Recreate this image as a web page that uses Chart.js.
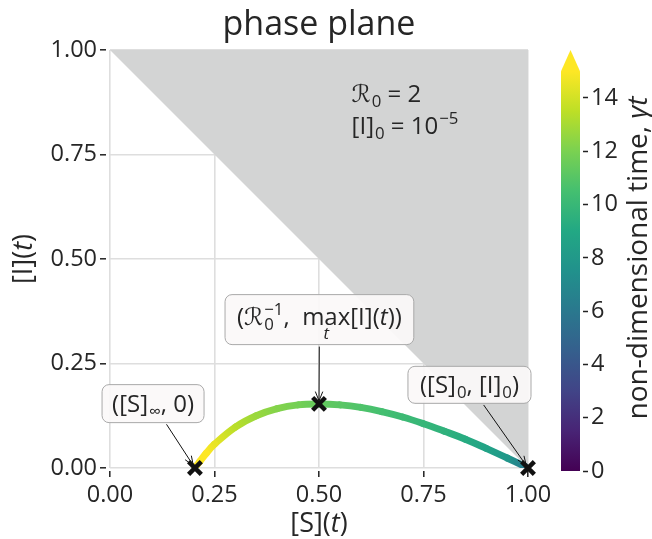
<!DOCTYPE html>
<html>
<head>
<meta charset="utf-8">
<script src="https://cdn.jsdelivr.net/npm/chart.js@4.4.0/dist/chart.umd.min.js"></script>
<style>
  html, body { margin: 0; padding: 0; background: #fff; }
  #wrap { position: relative; width: 652px; height: 539px; }
  #phase { position: absolute; left: 0; top: 0; }
  #cbar { position: absolute; left: 540px; top: 0; }
</style>
</head>
<body>
<div id="wrap">
  <canvas id="phase" width="560" height="539"></canvas>
  <canvas id="cbar" width="112" height="539"></canvas>
</div>
<script>
// SIR trajectory (R0 = 2, [I]0 = 1e-5)
const susceptible = [1.000, 0.990, 0.950, 0.900, 0.850, 0.800, 0.750, 0.700, 0.650, 0.600, 0.550, 0.500, 0.450, 0.400, 0.350, 0.300, 0.250, 0.230, 0.215, 0.2032];
const infected    = [0.000, 0.005, 0.024, 0.047, 0.069, 0.088, 0.106, 0.122, 0.135, 0.145, 0.151, 0.153, 0.151, 0.142, 0.125, 0.098, 0.057, 0.035, 0.016, 0.000];
// non-dimensional time (gamma t) along the trajectory, read from the colours
const timeGamma   = [5.0, 6.3, 7.9, 8.7, 9.2, 9.6, 9.9, 10.2, 10.5, 10.8, 11.1, 11.4, 11.8, 12.2, 12.7, 13.4, 14.5, 15.6, 17.0, 21.5];

// marked points: ([S]inf, 0), (1/R0, max I), ([S]0, [I]0)
const markerS = [0.2032, 0.500, 1.000];
const markerI = [0.000, 0.1534, 0.000];

// S + I = 1 boundary, region above it is shaded
const boundaryS = [0, 1];
const boundaryI = [1, 0];

const axisTicks = [0, 0.25, 0.5, 0.75, 1];
const timeTicks = [0, 2, 4, 6, 8, 10, 12, 14];
const timeMax = 15;

const FAMILY = '"Open Sans", "DejaVu Sans", sans-serif';
const INK = '#262626';

const viridis = ['#440154', '#482475', '#414487', '#355f8d', '#2a788e', '#21918c',
                 '#22a884', '#44bf70', '#7ad151', '#bddf26', '#fde725'];

function viridisAt(f) {
    f = Math.min(1, Math.max(0, f));
    const p = f * (viridis.length - 1);
    const i = Math.min(Math.floor(p), viridis.length - 2);
    const t = p - i;
    const a = viridis[i], b = viridis[i + 1];
    const c = [1, 3, 5].map(k => {
        const u = parseInt(a.substr(k, 2), 16), v = parseInt(b.substr(k, 2), 16);
        return Math.round(u + (v - u) * t);
    });
    return `rgb(${c[0]},${c[1]},${c[2]})`;
}

function font(size, italic) {
    return (italic ? 'italic ' : '') + size + 'px ' + FAMILY;
}

// runs: {t, sub, sup, under, it}
function runsWidth(ctx, runs, size) {
    let w = 0;
    for (const r of runs) {
        ctx.font = font(size, r.it);
        w += ctx.measureText(r.t).width;
        ctx.font = font(size * 0.7);
        const sw = Math.max(r.sub ? ctx.measureText(r.sub).width : 0,
                            r.sup ? ctx.measureText(r.sup).width : 0);
        if (sw) w += sw + 1;
    }
    return w;
}

function drawRuns(ctx, runs, x, y, size) {
    ctx.textAlign = 'left';
    ctx.textBaseline = 'alphabetic';
    for (const r of runs) {
        ctx.font = font(size, r.it);
        const tw = ctx.measureText(r.t).width;
        ctx.fillText(r.t, x, y);
        if (r.under) {
            ctx.font = font(size * 0.7, true);
            const uw = ctx.measureText(r.under).width;
            ctx.fillText(r.under, x + tw / 2 - uw / 2, y + size * 0.6);
        }
        x += tw;
        ctx.font = font(size * 0.7);
        let sw = 0;
        if (r.sub) {
            ctx.fillText(r.sub, x + 1, y + size * 0.22);
            sw = ctx.measureText(r.sub).width;
        }
        if (r.sup) {
            ctx.fillText(r.sup, x + 1, y - size * 0.42);
            sw = Math.max(sw, ctx.measureText(r.sup).width);
        }
        if (sw) x += sw + 1;
    }
}

const params = [
    [{ t: 'ℛ', sub: '0' }, { t: ' = 2' }],
    [{ t: '[I]', sub: '0' }, { t: ' = 10', sup: '−5' }],
];

const callouts = [
    { runs: [{ t: '([S]', sub: '∞' }, { t: ', 0)' }], at: [0.103, 0.154], point: 0, pad: 10, h: 38, dy: 0 },
    { runs: [{ t: '(ℛ', sub: '0', sup: '−1' }, { t: ',  ' }, { t: 'max', under: 't' }, { t: '[I](' }, { t: 't', it: true }, { t: '))' }],
      at: [0.501, 0.355], point: 1, pad: 12, h: 50, dy: -3 },
    { runs: [{ t: '([S]', sub: '0' }, { t: ', [I]', sub: '0' }, { t: ')' }], at: [0.86, 0.199], point: 2, pad: 12, h: 37, dy: 0 },
];

const notes = {
    id: 'notes',
    afterDatasetsDraw(chart) {
        const { ctx, chartArea: area, scales: { x, y } } = chart;
        const size = 24;
        ctx.save();
        ctx.fillStyle = INK;

        // parameters
        const px = x.getPixelForValue(0.578);
        drawRuns(ctx, params[0], px, y.getPixelForValue(0.876), size);
        drawRuns(ctx, params[1], px, y.getPixelForValue(0.876) + 32, size);

        // callout boxes with arrows
        for (const c of callouts) {
            const w = runsWidth(ctx, c.runs, size);
            const cx = x.getPixelForValue(c.at[0]);
            const cy = y.getPixelForValue(c.at[1]);
            const bw = w + 2 * c.pad, bh = c.h;
            const tx = x.getPixelForValue(markerS[c.point]);
            const ty = y.getPixelForValue(markerI[c.point]);

            const dx = tx - cx, dy = ty - cy;
            const len = Math.hypot(dx, dy);
            const k = Math.min(Math.abs(dx) > 0 ? (bw / 2) / Math.abs(dx) : Infinity,
                               Math.abs(dy) > 0 ? (bh / 2) / Math.abs(dy) : Infinity) + 2 / len;
            const sx = cx + dx * k, sy = cy + dy * k;
            const ex = tx - dx / len * 3, ey = ty - dy / len * 3;
            ctx.strokeStyle = '#111';
            ctx.lineWidth = 1;
            ctx.beginPath();
            ctx.moveTo(sx, sy);
            ctx.lineTo(ex, ey);
            const ang = Math.atan2(ey - sy, ex - sx);
            for (const s of [-1, 1]) {
                ctx.moveTo(ex, ey);
                ctx.lineTo(ex - 10 * Math.cos(ang + s * 0.38), ey - 10 * Math.sin(ang + s * 0.38));
            }
            ctx.stroke();

            ctx.beginPath();
            ctx.roundRect(cx - bw / 2, cy - bh / 2, bw, bh, 7);
            ctx.fillStyle = 'rgba(251,248,248,0.92)';
            ctx.fill();
            ctx.strokeStyle = '#a9a9a9';
            ctx.stroke();
            ctx.fillStyle = INK;
            drawRuns(ctx, c.runs, cx - w / 2, cy + size * 0.35 + c.dy, size);
        }

        // axis titles
        const tsize = 27;
        const xt = [{ t: '[S](' }, { t: 't', it: true }, { t: ')' }];
        const yt = [{ t: '[I](' }, { t: 't', it: true }, { t: ')' }];
        drawRuns(ctx, xt, (area.left + area.right) / 2 - runsWidth(ctx, xt, tsize) / 2, 532, tsize);
        ctx.translate(32, (area.top + area.bottom) / 2);
        ctx.rotate(-Math.PI / 2);
        drawRuns(ctx, yt, -runsWidth(ctx, yt, tsize) / 2, 0, tsize);
        ctx.restore();
    }
};

const cbarLabel = {
    id: 'cbarLabel',
    afterDraw(chart) {
        const { ctx } = chart;
        const runs = [{ t: 'non-dimensional time, ' }, { t: 'γt', it: true }];
        const size = 28;
        ctx.save();
        ctx.fillStyle = INK;
        ctx.translate(107, 258);
        ctx.rotate(-Math.PI / 2);
        drawRuns(ctx, runs, -runsWidth(ctx, runs, size) / 2, 0, size);
        ctx.restore();
    }
};

const tickFont = { family: FAMILY, size: 23.5 };

function axis(extra) {
    return Object.assign({
        type: 'linear',
        min: 0,
        max: 1,
        afterBuildTicks: s => { s.ticks = axisTicks.map(v => ({ value: v })); },
        ticks: { font: tickFont, color: INK, maxRotation: 0, padding: 3, callback: v => v.toFixed(2) },
        border: { display: false },
    }, extra);
}

new Chart(document.getElementById('phase'), {
    type: 'scatter',
    data: {
        datasets: [
            {
                label: 'key points',
                data: markerS.map((s, i) => ({ x: s, y: markerI[i] })),
                pointStyle: 'crossRot',
                pointRadius: 9,
                pointBorderWidth: 4.5,
                borderColor: '#111',
                backgroundColor: '#111',
                clip: false,
                order: 0,
            },
            {
                label: 'trajectory',
                type: 'line',
                data: susceptible.map((s, i) => ({ x: s, y: infected[i] })),
                borderWidth: 7,
                borderColor: viridisAt(0.7),
                borderCapStyle: 'round',
                pointRadius: 0,
                tension: 0.4,
                segment: {
                    borderColor: c => {
                        const g = c.chart.ctx.createLinearGradient(c.p0.x, c.p0.y, c.p1.x, c.p1.y);
                        g.addColorStop(0, viridisAt(timeGamma[c.p0DataIndex] / timeMax));
                        g.addColorStop(1, viridisAt(timeGamma[c.p1DataIndex] / timeMax));
                        return g;
                    },
                },
                order: 1,
            },
            {
                label: 'S + I > 1',
                type: 'line',
                data: boundaryS.map((s, i) => ({ x: s, y: boundaryI[i] })),
                fill: 'end',
                backgroundColor: 'rgb(211,212,212)',
                borderWidth: 0,
                pointRadius: 0,
                order: 2,
            },
        ],
    },
    options: {
        responsive: false,
        animation: false,
        layout: { padding: { left: 0, right: 32, top: 0, bottom: 0 } },
        plugins: {
            legend: { display: false },
            tooltip: { enabled: false },
            title: {
                display: true,
                text: 'phase plane',
                fullSize: false,
                color: INK,
                font: { family: FAMILY, size: 34, weight: 'normal' },
                padding: { top: 5, bottom: 4.2 },
            },
        },
        scales: {
            x: axis({
                afterFit: s => { s.height = 71; },
                grid: { color: '#dedede', lineWidth: 1.6, tickLength: 10, tickColor: '#222', tickWidth: 1.5, tickBorderDash: [0, 3, 6, 20] },
            }),
            y: axis({
                afterFit: s => { s.width = 110; },
                grid: { color: '#dedede', lineWidth: 1.6, tickLength: 10, tickColor: '#222', tickWidth: 1.5, tickBorderDash: [6, 20] },
            }),
        },
    },
    plugins: [notes],
});

new Chart(document.getElementById('cbar'), {
    type: 'scatter',
    data: {
        datasets: [{
            label: 'colorbar',
            type: 'line',
            data: [{ x: 0, y: 0 }, { x: 0, y: timeMax }, { x: 0.5, y: timeMax + 0.8 }, { x: 1, y: timeMax }, { x: 1, y: 0 }],
            fill: 'origin',
            borderWidth: 0,
            pointRadius: 0,
            backgroundColor: c => {
                const { chart } = c;
                if (!chart.chartArea) return viridis[5];
                const y = chart.scales.y;
                const g = chart.ctx.createLinearGradient(0, y.getPixelForValue(0), 0, y.getPixelForValue(timeMax));
                viridis.forEach((col, i) => g.addColorStop(i / (viridis.length - 1), col));
                return g;
            },
        }],
    },
    options: {
        responsive: false,
        animation: false,
        layout: { padding: { left: 21, top: 50, bottom: 68, right: 0 } },
        plugins: { legend: { display: false }, tooltip: { enabled: false } },
        scales: {
            x: { type: 'linear', min: 0, max: 1, display: false },
            y: {
                position: 'right',
                min: 0,
                max: timeMax + 0.8,
                afterBuildTicks: s => { s.ticks = timeTicks.map(v => ({ value: v })); },
                afterFit: s => { s.width = 72; },
                ticks: { font: tickFont, color: INK, padding: 3 },
                grid: { drawOnChartArea: false, tickLength: 8, tickColor: '#222', tickWidth: 1.5, tickBorderDash: [0, 3, 5, 20] },
                border: { display: false },
            },
        },
    },
    plugins: [cbarLabel],
});
</script>
</body>
</html>
